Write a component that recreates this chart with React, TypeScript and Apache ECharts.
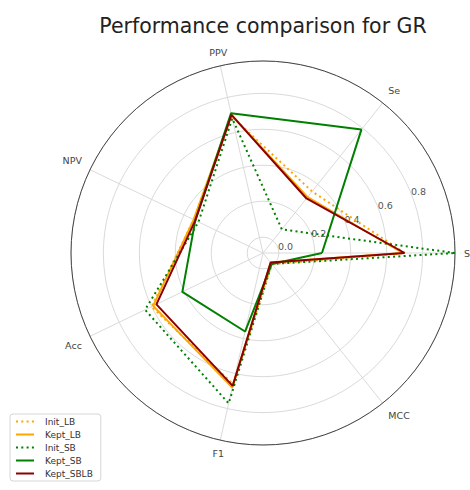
import React, { useEffect, useRef } from 'react';
import * as echarts from 'echarts';

// ---- data ----
const categories = ['Sp', 'Se', 'PPV', 'NPV', 'Acc', 'F1', 'MCC'];
const radialTicks = [0, 0.2, 0.4, 0.6, 0.8];
const seriesNames = ['Init_LB', 'Kept_LB', 'Init_SB', 'Kept_SB', 'Kept_SBLB'];
const initLB = [0.70, 0.35, 0.69, 0.34, 0.60, 0.66, -0.01];
const keptLB = [0.69, 0.31, 0.70, 0.34, 0.59, 0.68, -0.02];
const initSB = [0.98, 0.08, 0.68, 0.31, 0.64, 0.77, -0.01];
const keptSB = [0.24, 0.79, 0.71, 0.33, 0.41, 0.36, -0.01];
const keptSBLB = [0.70, 0.30, 0.70, 0.33, 0.57, 0.67, -0.02];
const R_MIN = -0.088;
const R_MAX = 0.98;

// ---- layout / style ----
const CX = 263;
const CY = 253;
const R = 192;
const INNER = (R * (0 - R_MIN)) / (R_MAX - R_MIN);
const FONT = 'DejaVu Sans';
const DOT = [2, 3.3];

const seriesValues = [initLB, keptLB, initSB, keptSB, keptSBLB];
const seriesStyles = [
  { color: '#ffa500', type: DOT },
  { color: '#ffa500', type: 'solid' },
  { color: '#008000', type: DOT },
  { color: '#008000', type: 'solid' },
  { color: '#8b0000', type: 'solid' },
];

const N = categories.length;
const closed = (vals: number[]) =>
  vals.map((v, i) => [v, i]).concat([[vals[0], N]]);

const option: any = {
  animation: false,
  title: {
    text: 'Performance comparison for GR',
    left: CX,
    top: 15,
    padding: 0,
    textAlign: 'center',
    textStyle: { fontFamily: FONT, fontSize: 20.5, fontWeight: 'normal', color: '#222' },
  },
  legend: {
    data: seriesNames,
    orient: 'vertical',
    left: 10,
    top: 414,
    padding: [3, 8, 3, 5],
    itemWidth: 18,
    itemHeight: 8,
    itemGap: 4,
    borderColor: '#d6d6d6',
    borderWidth: 1,
    borderRadius: 3,
    itemStyle: { opacity: 0 },
    textStyle: { fontFamily: FONT, fontSize: 9, color: '#333', padding: [0, 0, 0, 6] },
  },
  polar: [
    { center: [CX, CY], radius: R },
    { center: [CX, CY], radius: R },
    { center: [CX, CY], radius: [INNER, R] },
  ],
  angleAxis: [
    { polarIndex: 0, type: 'value', min: 0, max: N, startAngle: 0, clockwise: false, show: false },
    {
      polarIndex: 1,
      type: 'value',
      min: 0,
      max: N,
      interval: 1,
      startAngle: 0,
      clockwise: false,
      z: 3,
      axisLine: { show: true, lineStyle: { color: '#444', width: 1 } },
      axisTick: { show: false },
      splitLine: { show: true, lineStyle: { color: '#dadada', width: 1 } },
      axisLabel: {
        margin: 9,
        fontFamily: FONT,
        fontSize: 9.5,
        color: '#444',
        formatter: (v: number) => (v < N ? categories[v] : ''),
      },
    },
    { polarIndex: 2, type: 'value', min: 0, max: N, startAngle: 22.5, clockwise: false, show: false },
  ],
  radiusAxis: [
    { polarIndex: 0, type: 'value', min: R_MIN, max: R_MAX, show: false },
    { polarIndex: 1, type: 'value', min: R_MIN, max: R_MAX, show: false },
    {
      polarIndex: 2,
      type: 'value',
      min: radialTicks[0],
      max: R_MAX,
      interval: radialTicks[1] - radialTicks[0],
      axisLine: { show: false },
      axisTick: { show: false },
      splitLine: { show: true, lineStyle: { color: '#dadada', width: 1 } },
      axisLabel: {
        showMaxLabel: false,
        margin: 0,
        align: 'center',
        verticalAlign: 'middle',
        padding: [0, 0, 12, 16],
        fontFamily: FONT,
        fontSize: 9.5,
        color: '#555',
        formatter: (v: number) => (radialTicks.some((t) => Math.abs(t - v) < 1e-6) ? v.toFixed(1) : ''),
      },
    },
  ],
  series: seriesNames.map((name, k) => ({
    name,
    type: 'line',
    coordinateSystem: 'polar',
    polarIndex: 0,
    symbol: 'none',
    clip: false,
    z: 5 + k,
    data: closed(seriesValues[k]),
    lineStyle: { color: seriesStyles[k].color, width: 2, type: seriesStyles[k].type, cap: 'butt' },
    itemStyle: { color: seriesStyles[k].color },
  })),
};

export default function App() {
  const ref = useRef<HTMLDivElement>(null);
  useEffect(() => {
    const chart = echarts.init(ref.current!, null, { renderer: 'svg' });
    chart.setOption(option);
    return () => chart.dispose();
  }, []);
  return (
    <div
      ref={ref}
      style={{ position: 'absolute', left: 0, top: 0, width: 470, height: 490, background: '#fff' }}
    />
  );
}
